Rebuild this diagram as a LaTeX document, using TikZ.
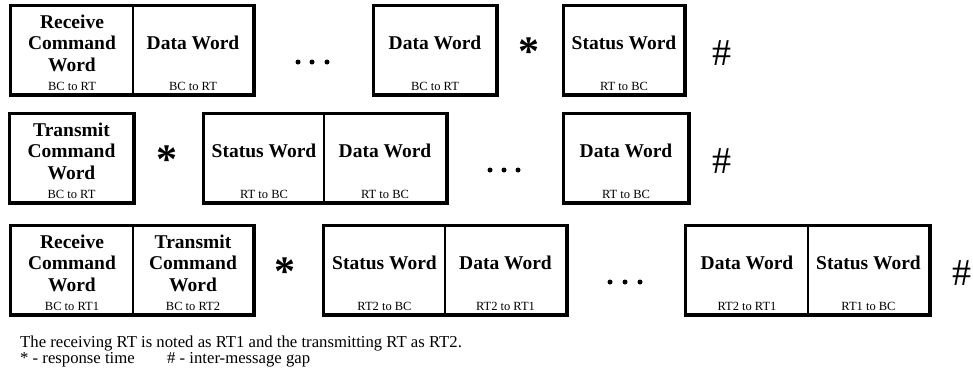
\documentclass[tikz,border=0pt]{standalone}
\usepackage{fontspec}
\setmainfont{Liberation Serif}
\begin{document}
\begin{tikzpicture}[x=1pt,y=-1pt,
  cell/.style={draw,line width=2pt,minimum height=88pt,inner sep=0pt,anchor=north west},
  grp/.style={draw,line width=3pt},
  ttl/.style={font=\fontsize{19.5}{21.5}\selectfont\bfseries,align=center,inner sep=0pt},
  sub/.style={font=\fontsize{12.5}{14}\selectfont,inner sep=0pt},
  star/.style={font=\fontsize{42}{42}\selectfont\bfseries,inner sep=0pt,anchor=base},
  hash/.style={font=\fontsize{38}{38}\selectfont,inner sep=0pt},
  dot/.style={circle,fill=black,inner sep=0pt,minimum size=5pt},
  note/.style={font=\fontsize{16.7}{18}\selectfont,inner sep=0pt,anchor=base west}]
\useasboundingbox (0,0) rectangle (973,373);
\newcommand\wordcell[6]{%
  \node[cell,minimum width=#4pt] (#1) at (#2,#3) {};
  \node[ttl] (#1t) at ([yshift=-38pt]#1.north) {#5};
  \node[sub] (#1s) at ([yshift=9pt]#1.south) {#6};}
% Row 1
\wordcell{a1}{10}{5}{122}{Receive\\Command\\Word}{BC to RT}
\wordcell{a2}{132}{5}{120}{Data Word}{BC to RT}
\wordcell{a3}{373}{5}{122}{Data Word}{BC to RT}
\wordcell{a4}{563}{5}{120}{Status Word}{RT to BC}
\draw[grp] (a1.north west) rectangle (a2.south east);
\draw[grp] (a3.north west) rectangle (a3.south east);
\draw[grp] (a4.north west) rectangle (a4.south east);
\node[dot] (ad1) at (298,62) {};
\node[dot] (ad2) at (312,62) {};
\node[dot] (ad3) at (327,62) {};
\node[star] (as) at (529,65) {*};
\node[hash] (ah) at (722,53) {\#};
% Row 2
\wordcell{b1}{9}{113}{123}{Transmit\\Command\\Word}{BC to RT}
\wordcell{b2}{203}{113}{120}{Status Word}{RT to BC}
\wordcell{b3}{323}{113}{122}{Data Word}{RT to BC}
\wordcell{b4}{563}{113}{124}{Data Word}{RT to BC}
\draw[grp] (b1.north west) rectangle (b1.south east);
\draw[grp] (b2.north west) rectangle (b3.south east);
\draw[grp] (b4.north west) rectangle (b4.south east);
\node[star] (bs) at (167,173) {*};
\node[dot] (bd1) at (490,170) {};
\node[dot] (bd2) at (504,170) {};
\node[dot] (bd3) at (518,170) {};
\node[hash] (bh) at (722,161) {\#};
% Row 3
\wordcell{c1}{10}{225}{122}{Receive\\Command\\Word}{BC to RT1}
\wordcell{c2}{132}{225}{120}{Transmit\\Command\\Word}{BC to RT2}
\wordcell{c3}{323}{225}{121}{Status Word}{RT2 to BC}
\wordcell{c4}{444}{225}{121}{Data Word}{RT2 to RT1}
\wordcell{c5}{685}{225}{122}{Data Word}{RT2 to RT1}
\wordcell{c6}{807}{225}{121}{Status Word}{RT1 to BC}
\draw[grp] (c1.north west) rectangle (c2.south east);
\draw[grp] (c3.north west) rectangle (c4.south east);
\draw[grp] (c5.north west) rectangle (c6.south east);
\node[star] (cs) at (285,285) {*};
\node[dot] (cd1) at (610,282) {};
\node[dot] (cd2) at (625,282) {};
\node[dot] (cd3) at (640,282) {};
\node[hash] (ch) at (962,273) {\#};
% Notes
\node[note] (n1) at (20,347) {The receiving RT is noted as RT1 and the transmitting RT as RT2.};
\node[note] (n2) at (20,363) {* - response time};
\node[note] (n3) at (167,363) {\# - inter-message gap};
\end{tikzpicture}
\end{document}
